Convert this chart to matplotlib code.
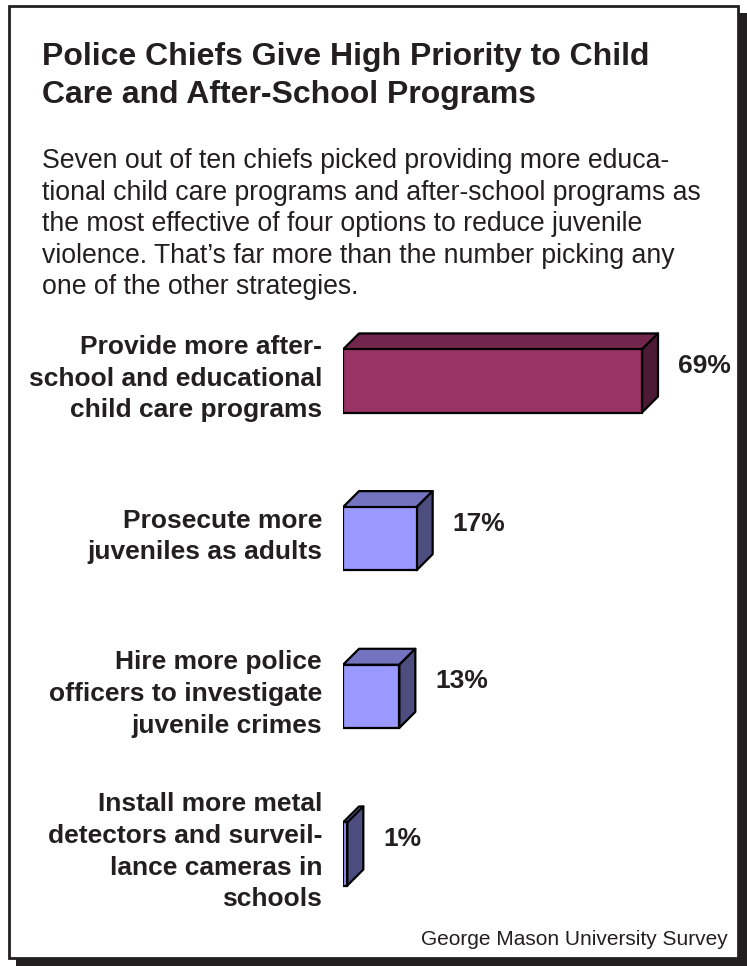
import matplotlib
matplotlib.use("Agg")
import matplotlib.pyplot as plt
from matplotlib.patches import Rectangle, Polygon

plt.rcParams['font.family'] = ['Liberation Sans', 'DejaVu Sans']

# ---------------- data ----------------
categories = [
    ["Provide more after-", "school and educational", "child care programs"],
    ["Prosecute more", "juveniles as adults"],
    ["Hire more police", "officers to investigate", "juvenile crimes"],
    ["Install more metal", "detectors and surveil-", "lance cameras in", "schools"],
]
values = [69, 17, 13, 1]
value_labels = ["69%", "17%", "13%", "1%"]

title_lines = ["Police Chiefs Give High Priority to Child",
               "Care and After-School Programs"]
body_lines = ["Seven out of ten chiefs picked providing more educa-",
              "tional child care programs and after-school programs as",
              "the most effective of four options to reduce juvenile",
              "violence. That\u2019s far more than the number picking any",
              "one of the other strategies."]
source = "George Mason University Survey"

# ---------------- style ----------------
front_colors = ["#993366", "#9999ff", "#9999ff", "#9999ff"]
top_colors = ["#73264d", "#7373bf", "#7373bf", "#7373bf"]
side_colors = ["#4d1a33", "#4d4d80", "#4d4d80", "#4d4d80"]
ink = "#231f20"

W, H = 747, 966
fig = plt.figure(figsize=(W / 100, H / 100), dpi=100)
fig.patch.set_facecolor("white")

def fx(px):
    return px / W

def fy(py):
    return 1 - py / H

# frame with drop shadow
fig.add_artist(Rectangle((fx(16), fy(967)), fx(747) - fx(16), fy(13) - fy(967),
                         transform=fig.transFigure, facecolor=ink, edgecolor="none", zorder=0))
fig.add_artist(Rectangle((fx(9), fy(958)), fx(738) - fx(9), fy(6) - fy(958),
                         transform=fig.transFigure, facecolor="white", edgecolor=ink,
                         linewidth=2.0, zorder=1))

# title
for i, line in enumerate(title_lines):
    fig.text(fx(42), fy(65 + 38 * i), line, fontsize=23, fontweight="bold",
             color=ink, ha="left", va="baseline", zorder=3)

# body
for i, line in enumerate(body_lines):
    fig.text(fx(42), fy(168 + 31.6 * i), line, fontsize=19.2,
             color=ink, ha="left", va="baseline", zorder=3)

# source
fig.text(fx(728), fy(945), source, fontsize=15, color=ink,
         ha="right", va="baseline", zorder=3)

# ---------------- bars ----------------
ax_left, ax_right, ax_top, ax_bottom = 343, 733, 300, 930
ax = fig.add_axes([fx(ax_left), fy(ax_bottom), fx(ax_right) - fx(ax_left),
                   fy(ax_top) - fy(ax_bottom)], zorder=2)
ax.set_xlim(0, 90)
ax.set_ylim(3.482, -0.5136)
ax.axis("off")
ax.patch.set_alpha(0)

px_per_x = (ax_right - ax_left) / 90.0
px_per_y = (ax_bottom - ax_top) / (3.482 + 0.5136)
depth_px = 16
dx = depth_px / px_per_x
dy = depth_px / px_per_y
bar_h = 0.4

ypos = list(range(len(values)))
ax.barh(ypos, values, height=bar_h, color=front_colors, edgecolor="black",
        linewidth=1.6, zorder=3)

for y, v, tc, sc in zip(ypos, values, top_colors, side_colors):
    top = y - bar_h / 2
    bot = y + bar_h / 2
    ax.add_patch(Polygon([(0, top), (v, top), (v + dx, top - dy), (dx, top - dy)],
                         closed=True, facecolor=tc, edgecolor="black",
                         linewidth=1.6, joinstyle="round", zorder=2))
    ax.add_patch(Polygon([(v, top), (v + dx, top - dy), (v + dx, bot - dy), (v, bot)],
                         closed=True, facecolor=sc, edgecolor="black",
                         linewidth=1.6, joinstyle="round", zorder=2))

pt = 0.72  # points per pixel at 100 dpi

# value labels
for y, v, lab in zip(ypos, values, value_labels):
    ax.annotate(lab, xy=(v, y), xytext=(36 * pt, 8 * pt), textcoords="offset points",
                fontsize=19, fontweight="bold", color=ink, ha="left", va="baseline",
                annotation_clip=False)

# category labels
line_sp = 31.7
for y, lines in zip(ypos, categories):
    n = len(lines)
    for i, line in enumerate(lines):
        off_px = (i - (n - 1) / 2) * line_sp + 4.7
        ax.annotate(line, xy=(0, y), xytext=(-21 * pt, -off_px * pt),
                    textcoords="offset points", fontsize=19, fontweight="bold",
                    color=ink, ha="right", va="baseline", annotation_clip=False)

fig.savefig("out.png", dpi=100)
